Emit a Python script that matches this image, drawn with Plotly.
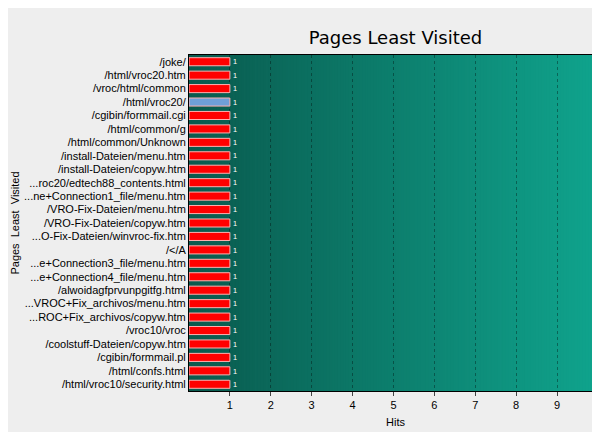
import plotly.graph_objects as go

pages = ["/joke/", "/html/vroc20.htm", "/vroc/html/common", "/html/vroc20/", "/cgibin/formmail.cgi",
         "/html/common/g", "/html/common/Unknown", "/install-Dateien/menu.htm", "/install-Dateien/copyw.htm",
         "...roc20/edtech88_contents.html", "...ne+Connection1_file/menu.htm", "/VRO-Fix-Dateien/menu.htm",
         "/VRO-Fix-Dateien/copyw.htm", "...O-Fix-Dateien/winvroc-fix.htm", "/</A", "...e+Connection3_file/menu.htm",
         "...e+Connection4_file/menu.htm", "/alwoidagfprvunpgitfg.html", "...VROC+Fix_archivos/menu.htm",
         "...ROC+Fix_archivos/copyw.htm", "/vroc10/vroc", "/coolstuff-Dateien/copyw.htm", "/cgibin/formmail.pl",
         "/html/confs.html", "/html/vroc10/security.html"]
hits = [1]*len(pages)
colors = ["#ff0000"]*len(pages)
colors[3] = "#6f9fd8"

fig = go.Figure()
fig.add_trace(go.Bar(y=pages, x=hits, orientation="h", marker=dict(color=colors, line=dict(color="#ffb0b0", width=1)),
                     width=0.6, text=[str(h) for h in hits], textposition="outside",
                     textfont=dict(color="white", size=11, family="Liberation Sans"), cliponaxis=False))

shapes = []
n = 150
for i in range(n):
    t = i/(n-1)
    r = int(10 + t*(16-10)); g = int(90 + t*(165-90)); b = int(78 + t*(142-78))
    shapes.append(dict(type="rect", xref="paper", yref="paper", x0=i/n, x1=(i+1)/n+0.002, y0=0, y1=1,
                       fillcolor=f"rgb({r},{g},{b})", line=dict(width=0), layer="below"))
fig.update_layout(
    width=600, height=432, margin=dict(l=181, r=6, t=47, b=49, autoexpand=False),
    paper_bgcolor="#eeeeee", plot_bgcolor="rgba(0,0,0,0)", shapes=shapes,
    title=dict(text="Pages Least Visited", x=0.5, xref="paper", y=0.945, xanchor="center",
               font=dict(size=18, family="DejaVu Sans", color="black")),
    xaxis=dict(range=[0, 10.1], tickvals=list(range(1, 11)), showgrid=True, gridcolor="rgba(0,0,0,0.35)",
               griddash="dot", title=dict(text="Hits", font=dict(size=11), standoff=8), ticks="outside", ticklen=4,
               tickfont=dict(size=11), showline=True, linecolor="black", mirror=True, zeroline=False,
               automargin=False),
    yaxis=dict(autorange="reversed", tickfont=dict(size=11), automargin=False,
               title=dict(text="Pages  Least  Visited", font=dict(size=11), standoff=2),
               showline=True, linecolor="black", mirror=True, ticks=""),
    font=dict(family="Liberation Sans", color="black"), bargap=0.3, showlegend=False,
)
fig.write_html("out.html")
